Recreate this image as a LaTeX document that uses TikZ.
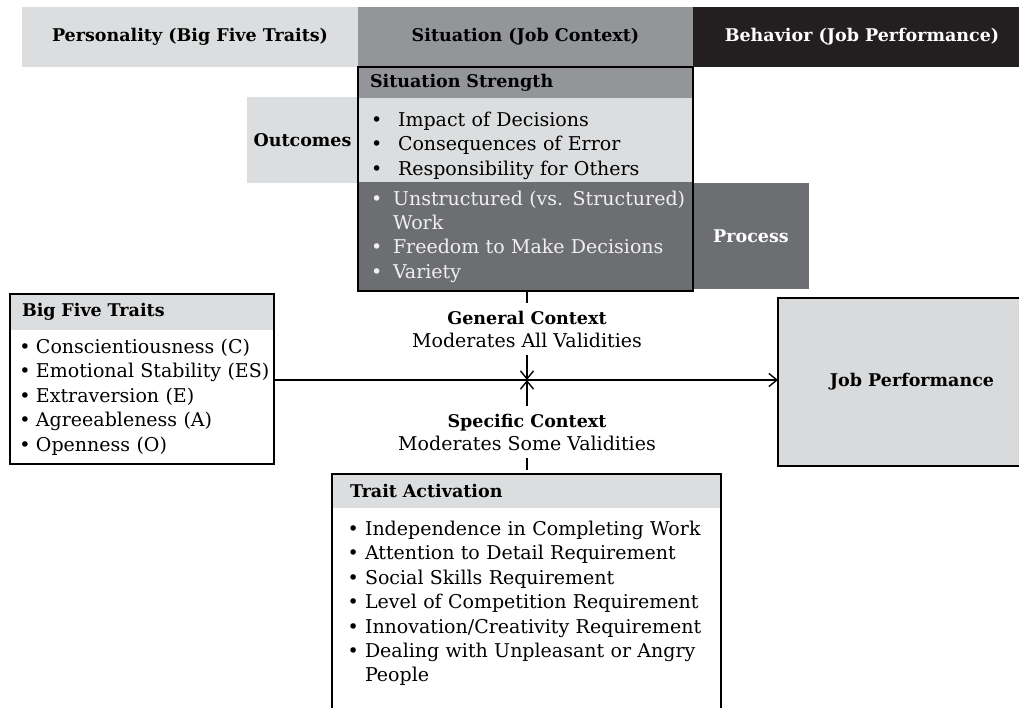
\documentclass[tikz,border=0pt]{standalone}
\usepackage{fontspec}
\setmainfont{DejaVu Serif}
\usetikzlibrary{positioning,arrows.meta}

\definecolor{lightgrey}{HTML}{DCDDDF}
\definecolor{midgrey}{HTML}{939598}
\definecolor{darkgrey}{HTML}{6D6E71}
\definecolor{nearblack}{HTML}{231F20}
\definecolor{jpgrey}{HTML}{D9DADC}

% bullet item that never breaks
\newcommand{\itm}[2][27pt]{\mbox{\makebox[#1][l]{\textbullet}#2}}
\newcommand{\headfont}{\bfseries\fontsize{17.5}{21}\selectfont}
\newcommand{\ctxhead}[1]{{\bfseries\fontsize{17.5}{23}\selectfont #1}}

\tikzset{
  cell/.style={anchor=north west, inner sep=0pt, outer sep=0pt},
  banner/.style={cell, minimum height=60pt, font=\headfont},
  head/.style={cell, align=left, font=\headfont},
  list/.style={cell, align=left, font=\fontsize{19}{24.4}\selectfont},
  ctx/.style={align=center, inner xsep=0pt, inner ysep=7pt, font=\fontsize{19}{23}\selectfont},
  frame/.style={line width=2pt},
  >={Straight Barb[length=8pt,width=13pt]}
}

\begin{document}
\begin{tikzpicture}[x=1pt, y=-1pt, line width=1.4pt]
\useasboundingbox (0,0) rectangle (1019,708);

% top banner
\node[banner, fill=lightgrey, minimum width=336pt] (pers) at (22,7) {Personality (Big Five Traits)};
\node[banner, fill=midgrey, minimum width=335pt] (situ) at (358,7) {Situation (Job Context)};
\node[banner, fill=nearblack, text=white, minimum width=338pt] (behav) at (693,7) {Behavior (Job Performance)};

% situation strength
\node[cell, fill=lightgrey, minimum width=111pt, minimum height=86pt, font=\headfont] (outc) at (247,97) {Outcomes};
\node[cell, fill=darkgrey, text=white, minimum width=116pt, minimum height=106pt, font=\headfont] (proc) at (693,183) {Process};
\node[head, fill=midgrey, text width=311pt, inner xsep=12pt, minimum height=31pt] (ssHead) at (358,67) {Situation Strength};
\node[list, fill=lightgrey, text width=309pt, inner xsep=13pt, minimum height=84pt] (ssOut) at (358,98)
  {\rule{0pt}{26pt}\itm{Impact of Decisions}\\ \itm{Consequences of Error}\\ \itm{Responsibility for Others}};
\node[list, fill=darkgrey, text=white!94!black, text width=309pt, inner xsep=13pt, minimum height=109pt] (ssProc) at (358,182)
  {\itm[22pt]{Unstructured (vs. Structured)}\\ \hspace*{22pt}Work\\ \itm[22pt]{Freedom to Make Decisions}\\ \itm[22pt]{Variety}};
\draw[frame] (ssHead.north west) rectangle (ssProc.south east);

% big five traits
\node[head, fill=lightgrey, text width=240pt, inner xsep=12pt, minimum height=36pt] (bfHead) at (10,294) {Big Five Traits};
\node[list, text width=245pt, inner xsep=9.5pt, minimum height=134pt] (bfBody) at (10,330)
  {\itm[16.5pt]{Conscientiousness (C)}\\ \itm[16.5pt]{Emotional Stability (ES)}\\ \itm[16.5pt]{Extraversion (E)}\\ \itm[16.5pt]{Agreeableness (A)}\\ \itm[16.5pt]{Openness (O)}};
\draw[frame] (bfHead.north west) rectangle (bfBody.south east);

% job performance
\node[cell, draw, frame, fill=jpgrey, minimum width=268pt, minimum height=168pt, font=\headfont] (jp) at (778,298) {Job Performance};

% trait activation
\node[head, fill=lightgrey, text width=353pt, inner xsep=18pt, minimum height=34pt] (taHead) at (332,474) {Trait Activation};
\node[list, text width=358pt, inner xsep=15.5pt, inner ysep=13pt] (taBody) at (332,508)
  {\itm[17.5pt]{Independence in Completing Work}\\ \itm[17.5pt]{Attention to Detail Requirement}\\ \itm[17.5pt]{Social Skills Requirement}\\
   \itm[17.5pt]{Level of Competition Requirement}\\ \itm[17.5pt]{Innovation/Creativity Requirement}\\
   \itm[17.5pt]{Dealing with Unpleasant or Angry}\\ \hspace*{17.5pt}People};
\draw[frame] (taHead.north west) rectangle (taHead.north east |- 0,712);

% context labels
\coordinate (cross) at (527,380);
\node[ctx] (gc) at (527,329) {\ctxhead{General Context}\\Moderates All Validities};
\node[ctx] (sc) at (527,432) {\ctxhead{Specific Context}\\Moderates Some Validities};

\draw (cross |- ssProc.south) -- (cross |- gc.north);
\draw[->] (gc.south) -- (cross);
\draw[->] (sc.north) -- (cross);
\draw (cross |- sc.south) -- ([yshift=4pt]cross |- taHead.north);
\draw[->] (cross -| bfBody.east) -- (cross -| jp.west);

\end{tikzpicture}
\end{document}
